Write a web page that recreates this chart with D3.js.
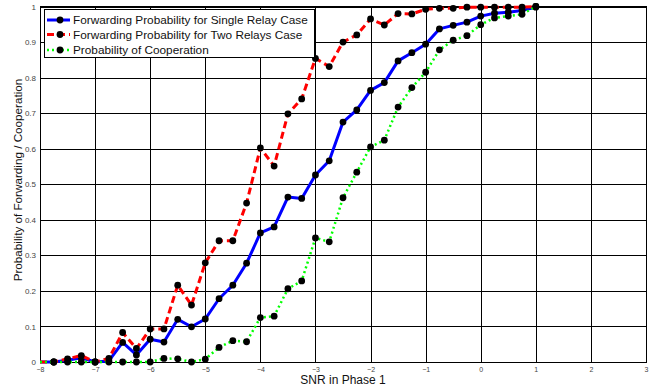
<!DOCTYPE html>
<html>
<head>
<meta charset="utf-8">
<script src="https://cdn.jsdelivr.net/npm/d3@7"></script>
<style>
  html, body { margin: 0; padding: 0; background: #fff; }
  svg { display: block; font-family: "Liberation Sans", Arial, sans-serif; }
</style>
</head>
<body>
<svg id="chart" width="652" height="389"></svg>
<script>
// SNR grid (dB) used for the simulation runs
const snr = [-8, -7.75, -7.5, -7.25, -7, -6.75, -6.5, -6.25, -6, -5.75, -5.5, -5.25,
  -5, -4.75, -4.5, -4.25, -4, -3.75, -3.5, -3.25, -3, -2.75, -2.5, -2.25,
  -2, -1.75, -1.5, -1.25, -1, -0.75, -0.5, -0.25, 0, 0.25, 0.5, 0.75, 1];

const singleRelay = [0, 0, 0.005, 0.012, 0, 0.003, 0.055, 0.02, 0.064, 0.056, 0.12, 0.099,
  0.121, 0.178, 0.216, 0.278, 0.363, 0.38, 0.464, 0.46, 0.526, 0.566, 0.675, 0.709,
  0.764, 0.786, 0.847, 0.87, 0.894, 0.937, 0.947, 0.956, 0.973, 0.981, 0.984, 0.989, 0.998];

const twoRelays = [0, 0, 0.009, 0.018, 0, 0.01, 0.083, 0.038, 0.093, 0.093, 0.216, 0.16,
  0.279, 0.341, 0.341, 0.447, 0.602, 0.551, 0.698, 0.74, 0.854, 0.831, 0.9, 0.92,
  0.965, 0.948, 0.98, 0.979, 0.992, 0.995, 0.995, 0.998, 0.998, 0.998, 0.998, 0.998, 1.0];

const cooperation = [0, 0, 0, 0, 0, 0, 0, 0, 0, 0.01, 0.009, 0,
  0.008, 0.041, 0.06, 0.057, 0.125, 0.129, 0.206, 0.228, 0.349, 0.338, 0.462, 0.534,
  0.605, 0.624, 0.717, 0.772, 0.815, 0.878, 0.905, 0.918, 0.949, 0.968, 0.973, 0.978, 1.0];

const xTicks = [-8, -7, -6, -5, -4, -3, -2, -1, 0, 1, 2, 3];
const yTicks = [0, 0.1, 0.2, 0.3, 0.4, 0.5, 0.6, 0.7, 0.8, 0.9, 1];

const seriesNames = [
  "Forwarding Probability for Single Relay Case",
  "Forwarding Probability for Two Relays Case",
  "Probability of Cooperation"
];

const series = [
  { name: seriesNames[0], values: singleRelay, color: "#0000ff", width: 3, dash: null },
  { name: seriesNames[1], values: twoRelays, color: "#ff0000", width: 3, dash: "7,4" },
  { name: seriesNames[2], values: cooperation, color: "#00ff00", width: 2.5, dash: "2,3" }
];

const svg = d3.select("#chart");
const L = 40, R = 646, T = 6.5, B = 362;

const x = d3.scaleLinear().domain([-8, 3]).range([L, R]);
const y = d3.scaleLinear().domain([0, 1]).range([B, T]);

// grid
const grid = svg.append("g");
grid.selectAll("line.vx").data(xTicks).join("line")
  .attr("x1", d => Math.round(x(d)) + 0.5).attr("x2", d => Math.round(x(d)) + 0.5)
  .attr("y1", T).attr("y2", B)
  .attr("stroke", "#000").attr("stroke-width", 1);
grid.selectAll("line.hy").data(yTicks).join("line")
  .attr("y1", d => Math.round(y(d)) + 0.5).attr("y2", d => Math.round(y(d)) + 0.5)
  .attr("x1", L).attr("x2", R)
  .attr("stroke", "#000").attr("stroke-width", 1);

// axes (tick labels only; grid supplies the lines)
const xAxis = svg.append("g").attr("transform", `translate(0,${B})`)
  .call(d3.axisBottom(x).tickValues(xTicks).tickFormat(d3.format("d")).tickSize(0).tickPadding(5));
xAxis.select(".domain").remove();
xAxis.selectAll("text").attr("font-size", 7).attr("fill", "#444")
  .attr("font-family", "'Liberation Sans', Arial, sans-serif");

const yAxis = svg.append("g").attr("transform", `translate(${L},0)`)
  .call(d3.axisLeft(y).tickValues(yTicks).tickFormat(d => d === 0 || d === 1 ? d3.format("d")(d) : d3.format(".1f")(d)).tickSize(0).tickPadding(4));
yAxis.select(".domain").remove();
yAxis.selectAll("text").attr("font-size", 8).attr("fill", "#444")
  .attr("font-family", "'Liberation Sans', Arial, sans-serif");

// small inward ticks on the right edge
svg.append("g").selectAll("line").data(yTicks).join("line")
  .attr("x1", R - 4).attr("x2", R)
  .attr("y1", d => Math.round(y(d)) + 0.5).attr("y2", d => Math.round(y(d)) + 0.5)
  .attr("stroke", "#000");

// frame
svg.append("rect").attr("x", L + 0.5).attr("y", T).attr("width", R - L).attr("height", B - T + 0.5)
  .attr("fill", "none").attr("stroke", "#000").attr("stroke-width", 1);

// curves
const line = d3.line().x((d, i) => x(snr[i])).y(d => y(d));
series.forEach(s => {
  svg.append("path").datum(s.values)
    .attr("d", line)
    .attr("fill", "none")
    .attr("stroke", s.color)
    .attr("stroke-width", s.width)
    .attr("stroke-dasharray", s.dash)
    .attr("stroke-linejoin", "round");
  svg.append("g").selectAll("circle").data(s.values.slice(1)).join("circle")
    .attr("cx", (d, i) => x(snr[i + 1]))
    .attr("cy", d => y(d))
    .attr("r", 3.4)
    .attr("fill", "#000");
});

// axis titles
svg.append("text").attr("x", (L + R) / 2).attr("y", 384)
  .attr("text-anchor", "middle").attr("font-size", 12).attr("fill", "#111")
  .text("SNR in Phase 1");
svg.append("text").attr("transform", `translate(22,180) rotate(-90)`)
  .attr("text-anchor", "middle").attr("font-size", 11.7).attr("fill", "#111")
  .text("Probability of Forwarding / Cooperation");

// legend
const lg = svg.append("g");
lg.append("rect").attr("x", 44.5).attr("y", 9.5).attr("width", 270).attr("height", 48)
  .attr("fill", "#fff").attr("stroke", "#000").attr("stroke-width", 1);
const rowsY = [20, 34.5, 50];
series.forEach((s, i) => {
  lg.append("line").attr("x1", 47).attr("x2", 70).attr("y1", rowsY[i]).attr("y2", rowsY[i])
    .attr("stroke", s.color).attr("stroke-width", s.width).attr("stroke-dasharray", s.dash);
  lg.append("circle").attr("cx", 60).attr("cy", rowsY[i]).attr("r", 3.4).attr("fill", "#000");
  lg.append("text").attr("x", 73).attr("y", rowsY[i]).attr("dy", "0.36em")
    .attr("font-size", 11.8).attr("fill", "#111").text(s.name);
});
</script>
</body>
</html>
